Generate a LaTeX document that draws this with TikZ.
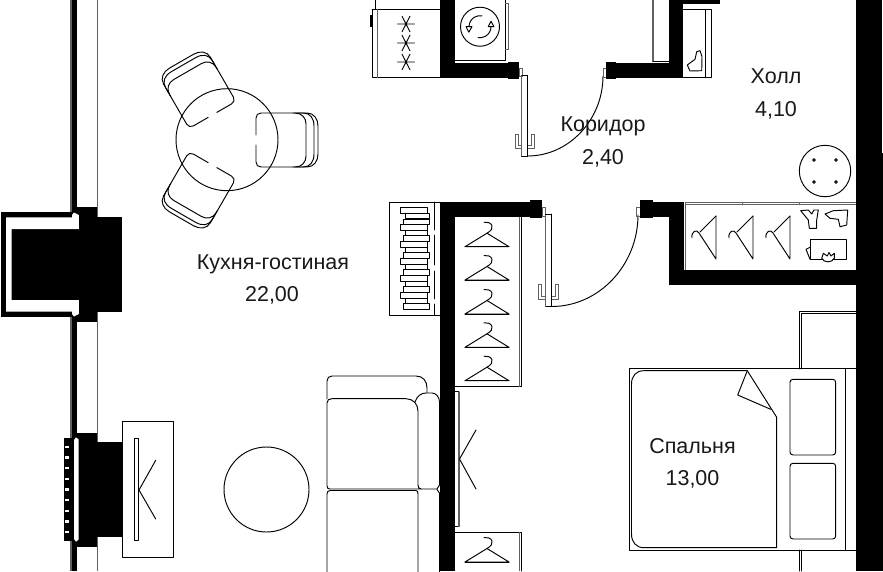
\documentclass[tikz,border=0pt]{standalone}
\usepackage{fontspec}
\setmainfont{Liberation Sans}
\newcommand{\hgr}[2]{\begin{scope}[shift={(#1,#2)}]
\draw[thin line] (0,-13.5) -- (22,0) -- (-22,0) -- cycle;
\draw[thin line] (-22,0) -- (22,0);
\draw[thin line] (0,-13.5) .. controls (4,-16) and (6,-18) .. (5,-21) .. controls (4,-24) and (0,-25) .. (-3,-24.5);
\end{scope}}
\newcommand{\sidehgr}[1]{\begin{scope}[shift={(#1,0)}]
\draw[thin line] (716,216) -- (716,259) -- (699,233) .. controls (697,229) and (691,231) .. (692,238);
\draw[thin line] (716,216) -- (700,232);
\end{scope}}
\newcommand{\hobstar}[2]{\begin{scope}[shift={(#1,#2)}]
\draw[thin line] (-8.5,0) -- (8.5,0) (-4,-7.8) -- (4,7.8) (4,-7.8) -- (-4,7.8);
\end{scope}}
\newcommand{\chairat}[1]{\begin{scope}[shift={(227,140)},rotate=#1]
\draw[thin line] (29,-5) -- (29,-22) .. controls (29,-25) and (31,-27) .. (34,-27) -- (68,-27) .. controls (75,-27) and (79,-22) .. (79,-16) -- (79,16) .. controls (79,22) and (75,27) .. (68,27) -- (34,27) .. controls (31,27) and (29,25) .. (29,22) -- (29,5);
\draw[thin line] (66,-27) -- (76,-27) .. controls (83,-27) and (87,-22) .. (87,-14) -- (87,14) .. controls (87,22) and (83,27) .. (76,27) -- (66,27);
\draw[thin line] (70,-27) -- (80,-27) .. controls (87,-27) and (91,-21) .. (91,-14) -- (91,14) .. controls (91,21) and (87,27) .. (80,27) -- (70,27);
\end{scope}}
\tikzset{
  x=1pt,y=-1pt,
  thin line/.style={draw=black,line width=0.95pt,line join=round,line cap=round},
  grey line/.style={draw=black!62,line width=1.3pt},
  wall/.style={fill=black,draw=none},
  lbl/.style={font=\fontsize{21.5}{26}\selectfont,inner sep=0pt,anchor=base,text=black!90},
}
\begin{document}
\begin{tikzpicture}
\useasboundingbox (0,0) rectangle (883,571);
\fill[white] (0,0) rectangle (883,571);

% --- left facade
\draw[grey line,line width=2pt] (70.7,0) -- (70.7,571);
\fill[wall] (72,0) rectangle (77,571);
\draw[grey line,line width=1pt] (97,0) -- (97,571);
% upper pier
\fill[wall] (77,207.3) rectangle (97,322);
\fill[wall] (97,217) rectangle (122,312);
\fill[wall] (1.3,212.3) rectangle (77,316.7);
\fill[white] (6,217.3) -- (72,217.3) -- (72,215) -- (74,212.5) -- (78.8,215) -- (78.8,229) -- (11.7,229) -- (11.7,300) -- (78.8,300) -- (78.8,314) -- (74,316.5) -- (72,314) -- (72,311.7) -- (6,311.7) -- cycle;
% lower pier
\fill[wall] (77,432.7) rectangle (97,546.7);
\fill[wall] (97,442) rectangle (122,537);
\fill[wall] (63.5,437.7) rectangle (73,541.3);
\fill[white] (74,440) -- (76,437.3) -- (78.7,439.5) -- (78.7,539.5) -- (76,541.7) -- (74,539) -- cycle;
\foreach \i in {0,...,8} { \fill[white] (65,445.5+10.67*\i) rectangle (69,448+10.67*\i); }
% table by the lower pier
\draw[thin line] (122,421) rectangle (173.5,557.7);
\draw[thin line] (134,438.3) rectangle (138.7,540.7);
\draw[thin line] (155.7,460.3) -- (139,490) -- (155.7,519);
\draw[thin line] (266.5,489.5) circle[radius=42.5pt];

% --- dining group
\chairat{0}
\chairat{120}
\chairat{240}
\draw[thin line] (227,139.7) circle[radius=51pt];

% --- sofa
\draw[thin line] (327,399) -- (327,381) .. controls (327,378) and (329,376) .. (332,376) -- (416,376) .. controls (423,376) and (427,381) .. (427,388) -- (427,393);
\draw[thin line] (327,486) -- (327,403) .. controls (327,400) and (329,398.7) .. (332,398.7) -- (406,398.7) .. controls (413,398.7) and (418,404) .. (418,411) -- (418,485) .. controls (418,487) and (419,489) .. (421,489) -- (330,489) .. controls (328,489) and (327,488) .. (327,486);
\draw[thin line] (327,575) -- (327,494) .. controls (327,492) and (328,490.5) .. (330,490.5) -- (416,490.5) .. controls (417.5,490.5) and (418,492) .. (418,494) -- (418,575);
\draw[thin line] (415,402) .. controls (417,396) and (421,393) .. (426,393) -- (432,393) .. controls (436,393) and (439.5,397) .. (439.5,402) -- (439.5,485) -- (437,489) -- (421,489);
\draw[thin line] (437,489.5) -- (439.5,493) -- (439.5,575);

% --- central wall, wardrobes
\fill[wall] (440,201.5) rectangle (455,571);
\fill[wall] (440,201.5) rectangle (530,216.7);
\fill[wall] (530,200) rectangle (542,218);
\draw[thin line] (455,386.7) -- (521.7,386.7) -- (521.7,216.7);
\draw[grey line,line width=0.9pt] (519.5,216.7) -- (519.5,386.7);
\foreach \b in {246.7,280,314,347.3,380.7} { \hgr{487}{\b} }
% tv
\draw[thin line] (455,391.7) -- (459,391.7) (455,526.7) -- (459,526.7);
\draw[grey line] (459,391.7) -- (459,526.7);
\draw[thin line] (476,430) -- (459.5,459) -- (476,489);
% lower wardrobe
\draw[thin line] (455,532) -- (521.7,532) -- (521.7,571);
\draw[grey line,line width=0.9pt] (519.5,532) -- (519.5,571);
\hgr{487}{562}
% shelf
\draw[thin line] (440,202) -- (389,202) -- (389,315.7) -- (440,315.7);
\draw[thin line,dash pattern=on 28pt off 5pt on 30pt off 6pt] (434.5,202) -- (434.5,315.7);
\foreach \i/\l/\r in {0/400.3/427,1/405/429,2/403/429,3/400.3/427,4/405/427.3,5/403/429,6/400.5/427,7/405/427.3,8/403/429,9/400.5/427,10/405/427.3,11/403/429,12/400.3/427,13/405/427.3,14/403/429,15/400.5/427,16/405/427.3,17/403/429} {
  \draw[thin line,line width=1pt] (\l,207.7+5.65*\i) rectangle (\r,213.3+5.65*\i);
}

% --- top: kitchen unit, washer
\fill[wall] (440,0) rectangle (455,77.7);
\fill[wall] (440,62.5) rectangle (508,77.7);
\fill[wall] (508,61.5) rectangle (519,78.5);
\draw[thin line] (375,0) -- (375,9.3);
\draw[thin line] (372,9.3) -- (440,9.3) (372,9.3) -- (372,77.7) -- (440,77.7);
\draw[grey line] (377.5,9.3) -- (377.5,77.7);
\draw[line width=1.2pt] (371,15) -- (371,27);
\hobstar{406}{24}
\hobstar{406}{43}
\hobstar{406}{62}
\draw[thin line] (455,60.5) -- (505.3,60.5) -- (505.3,0);
\draw[grey line,line width=1pt] (505.3,3) -- (508.7,3) -- (508.7,49) -- (505.3,49);
\draw[thin line] (480,26.7) circle[radius=19.5pt];
\draw[thin line] (469,26.7) arc[start angle=180,end angle=80,radius=11pt];
\draw[thin line] (491,26.7) arc[start angle=0,end angle=-100,radius=11pt];
\draw[thin line] (466,26.7) -- (472,26.7) -- (468.8,32.2) -- cycle;
\draw[thin line] (488.2,26.7) -- (494,26.7) -- (491,21.3) -- cycle;

% --- door 1
\draw[grey line,line width=0.8pt] (519,68) rectangle (522,76);
\draw[thin line] (527.7,75.5) -- (527.7,156) -- (521.7,156);
\draw[grey line,line width=1pt] (521.7,75.5) -- (521.7,156);
\draw[thin line] (521.7,75.5) -- (527.7,75.5);
\draw[grey line,line width=0.9pt] (521.7,148) -- (515.3,148) -- (515.3,134) -- (518,134) -- (518,145) -- (521.7,145);
\draw[grey line,line width=0.9pt] (527.7,148) -- (534,148) -- (534,134) -- (531.3,134) -- (531.3,145) -- (527.7,145);
\draw[thin line] (527.7,156) .. controls (569,156) and (603,119.5) .. (603,76);
\draw[grey line,line width=0.8pt] (603,68) rectangle (606,77);

% --- top right walls and closet
\fill[wall] (616,62.5) rectangle (683,77.7);
\fill[wall] (606,61.5) rectangle (616,78.5);
\fill[wall] (668.7,0) rectangle (683,77.7);
\fill[wall] (683,0) rectangle (720,4);
\draw[grey line,line width=1.2pt] (653,0) -- (653,62);
\draw[thin line] (653,61.5) -- (668.7,61.5);
\draw[thin line] (683,9.3) -- (711,9.3) -- (711,77.7) -- (683,77.7);
\draw[thin line] (705.5,9.3) -- (705.5,77.7);
\draw[thin line] (700,50.7) -- (702,56.7) -- (701.7,70.7) -- (690,71) -- (687.3,65) -- (695,59.3) -- (696.7,51.7) -- cycle;

% --- right wall
\fill[wall] (856,0) rectangle (882,571);
\fill[wall] (882,153) rectangle (883,571);

% --- door 2
\draw[grey line,line width=0.8pt] (542,207) rectangle (545,216);
\draw[thin line] (551.7,214) -- (551.7,306.5) -- (545.3,306.5);
\draw[grey line,line width=1pt] (545.3,214) -- (545.3,306.5);
\draw[thin line] (545.3,214) -- (551.7,214);
\draw[grey line,line width=0.9pt] (545.3,299) -- (538.5,299) -- (538.5,284) -- (541.5,284) -- (541.5,296) -- (545.3,296);
\draw[grey line,line width=0.9pt] (551.7,299) -- (558.3,299) -- (558.3,284) -- (555.3,284) -- (555.3,296) -- (551.7,296);
\draw[thin line] (551.7,306.5) .. controls (599,306.5) and (638,265) .. (638,215);
\draw[grey line,line width=0.8pt] (636,207) rectangle (640,216);

% --- hall wardrobe
\fill[wall] (653,201.7) rectangle (683.7,216.7);
\fill[wall] (640,200) rectangle (653,218);
\fill[wall] (668.7,201.7) rectangle (683.7,284.5);
\fill[wall] (668.7,270) rectangle (856,284.5);
\draw[grey line,line width=0.8pt] (685,202) -- (856,202) (685,204.7) -- (856,204.7) (742.7,202) -- (742.7,204.7) (799,202) -- (799,204.7);
\draw[grey line,line width=1pt] (685.5,202) -- (685.5,270);
\sidehgr{0}
\sidehgr{37}
\sidehgr{74}
\draw[thin line] (800.7,210.7) -- (808.3,210) -- (811.7,214) -- (814,210) -- (818.3,210) -- (816.7,220) -- (816.7,228.3) -- (809.3,228.3) -- (808.3,220) -- cycle;
\draw[thin line] (825,214) -- (833.3,210.7) -- (847.7,210) -- (846.7,225) -- (840,226.7) -- (838.3,219.3) -- (830,218.3) -- cycle;
\draw[thin line] (810,239.3) rectangle (846.7,259.3);
\draw[thin line] (810,247.3) -- (806,249.3) -- (810,259.3);
\filldraw[thin line,fill=white] (821.7,258.3) -- (823.3,253.3) -- (827.3,256) -- (829,252.5) -- (831,256) -- (834.3,253.3) -- (834.3,258.3) .. controls (832,263) and (824,263) .. (821.7,258.3) -- cycle;
% round table in the hall
\draw[thin line] (825,171) circle[radius=25.7pt];
\foreach \dx in {814,836} { \foreach \dy in {160,182} { \draw[thin line] (\dx,\dy) circle[radius=1.4pt]; } }

% --- bed
\draw[thin line] (799,369) -- (799,311.7) -- (856,311.7) (801.3,369) -- (801.3,313.5) -- (856,313.5);
\draw[thin line] (799,550) -- (799,571) (801.3,550) -- (801.3,571);
\draw[thin line] (629,368.7) rectangle (856,550);
\draw[thin line] (845,368.7) -- (845,550);
\draw[thin line] (747.3,370.7) -- (644,370.7) .. controls (636,370.7) and (631.5,376) .. (631.5,384) -- (631.5,534) .. controls (631.5,542) and (636,547.7) .. (644,547.7) -- (776.7,547.7) -- (776.7,417.3) -- cycle;
\draw[thin line] (747.3,370.7) -- (737.7,395) -- (770.7,409.3);
\draw[thin line,rounded corners=3pt] (790,379.3) rectangle (835.7,455);
\draw[thin line,rounded corners=3pt] (790,463.3) rectangle (835.7,539);

% --- labels
\node[lbl] (kitchen) at (273,269) {Кухня-гостиная};
\node[lbl] (kitchenarea) at (272,301.5) {22,00};
\node[lbl] (corridor) at (603,131) {Коридор};
\node[lbl] (corridorarea) at (603,164.5) {2,40};
\node[lbl] (hall) at (776,83.5) {Холл};
\node[lbl] (hallarea) at (776,116.5) {4,10};
\node[lbl] (bedroom) at (692.5,453) {Спальня};
\node[lbl] (bedroomarea) at (692.5,485) {13,00};
\end{tikzpicture}
\end{document}
